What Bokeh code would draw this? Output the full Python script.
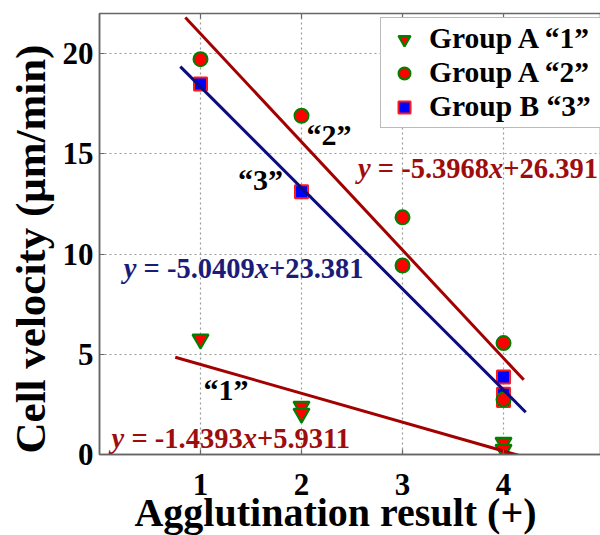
from bokeh.plotting import figure
from bokeh.models import Legend, LegendItem, FixedTicker, Range1d, GlobalInlineStyleSheet
from bokeh.embed import file_html
from bokeh.resources import INLINE
from bokeh.core.properties import value

# ---------------- data ----------------
g1_x = [1, 2, 2, 4, 4]
g1_y = [5.75, 2.4, 2.05, 0.6, 0.25]

g2_x = [1, 2, 3, 3, 4, 4]
g2_y = [19.72, 16.9, 11.83, 9.43, 5.56, 2.75]

g3_x = [1, 2, 4, 4, 4]
g3_y = [18.48, 13.11, 3.87, 3.0, 2.7]

fit_slope = [-1.4393, -5.3968, -5.0409]
fit_intercept = [5.9311, 26.391, 23.381]
fit_x_start = [0.75, 0.85, 0.8]
fit_x_end = [4.22, 4.2, 4.22]

x_ticks = [1, 2, 3, 4]
y_ticks = [0, 5, 10, 15, 20]
legend_labels = ["Group A \u201c1\u201d", "Group A \u201c2\u201d", "Group B \u201c3\u201d"]
group_tags = ["\u201c1\u201d", "\u201c2\u201d", "\u201c3\u201d"]
x_label = "Agglutination result (+)"
y_label = "Cell velocity (\u03bcm/min)"

# ---------------- styles ----------------
FONT = "Liberation Serif"
RED_LINE = "#a30000"
BLUE_LINE = "#0c0c80"
RED_TXT = "#9e0d0d"
BLUE_TXT = "#1c1c78"
AX = "#666666"
X_MAX, Y_MAX = 4.97, 22

p = figure(frame_width=502, frame_height=441,
           x_range=Range1d(0, X_MAX), y_range=Range1d(0, Y_MAX),
           output_backend="svg", toolbar_location=None,
           min_border_left=99, min_border_right=0, min_border_top=13,
           min_border_bottom=0)
# the original picture is cropped at its right and bottom edges
p.stylesheets = [GlobalInlineStyleSheet(css="html, body { overflow: hidden; }")]
p.outline_line_color = AX
p.outline_line_width = 1.5
p.background_fill_color = "white"

p.xaxis.ticker = FixedTicker(ticks=x_ticks)
p.yaxis.ticker = FixedTicker(ticks=y_ticks)
for ax in (p.xaxis[0], p.yaxis[0]):
    ax.major_label_text_font = FONT
    ax.major_label_text_font_style = "bold"
    ax.major_label_text_font_size = "31px"
    ax.major_label_text_color = "black"
    ax.axis_line_color = AX
    ax.axis_line_width = 1.5
    ax.major_tick_in = 5
    ax.major_tick_out = 0
    ax.major_tick_line_color = AX
    ax.major_tick_line_width = 1.2
    ax.minor_tick_line_color = None
    ax.axis_label_text_font = FONT
    ax.axis_label_text_font_style = "bold"
    ax.axis_label_text_color = "black"
p.xaxis.major_label_standoff = 19
p.yaxis.major_label_standoff = 6

# axis titles (trailing no-break spaces shift the centred title like the original)
p.xaxis.axis_label = x_label + "\u00a0\u00a0\u00a0"
p.xaxis.axis_label_text_font_size = "40px"
p.xaxis.axis_label_standoff = -8
p.yaxis.axis_label = y_label + "\u00a0\u00a0\u2009"
p.yaxis.axis_label_text_font_size = "43px"
p.yaxis.axis_label_standoff = 6

p.grid.grid_line_color = "#9a9a9a"
p.grid.grid_line_dash = "2 3"
p.grid.grid_line_width = 1.2

# mirrored tick marks on the top border
tick_len = 5 * Y_MAX / 441.0
p.segment(x0=x_ticks, y0=[Y_MAX] * len(x_ticks), x1=x_ticks,
          y1=[Y_MAX - tick_len] * len(x_ticks), line_color=AX, line_width=1.2)

# ---------------- markers ----------------
r1 = p.scatter(g1_x, g1_y, marker="inverted_triangle", size=16,
               fill_color="#ff0000", line_color="#008000", line_width=2.2)
r3 = p.scatter(g3_x, g3_y, marker="square", size=13,
               fill_color="#0000ff", line_color="#ff1a1a", line_width=2)
r2 = p.scatter(g2_x, g2_y, marker="circle", size=14,
               fill_color="#ff0000", line_color="#008000", line_width=2)

# ---------------- fit lines ----------------
line_colors = [RED_LINE, RED_LINE, BLUE_LINE]
for k in range(3):
    xs = [fit_x_start[k], fit_x_end[k]]
    ys = [fit_slope[k] * xx + fit_intercept[k] for xx in xs]
    p.line(xs, ys, line_color=line_colors[k], line_width=3)

# ---------------- equations ----------------
EQ_FS = 28.5


def add_equation(x0, y0, slope, intercept, color):
    # em advances of Times-metric bold / bold italic characters
    pieces = [
        ("y", "bold italic", 0.0),
        ("= %.4f" % slope, "bold", 0.694),
        ("x", "bold italic", 4.597),
        ("+%s" % intercept, "bold", 5.097),
    ]
    for txt, style, off in pieces:
        p.text(x=[x0], y=[y0], text=[txt], x_offset=off * EQ_FS,
               text_font=value(FONT), text_font_style=style,
               text_font_size=value("%.1fpx" % EQ_FS), text_color=color,
               text_align="left", text_baseline="middle")


add_equation(2.56, 14.26, fit_slope[1], fit_intercept[1], RED_TXT)
add_equation(0.24, 9.28, fit_slope[2], fit_intercept[2], BLUE_TXT)
add_equation(0.12, 0.81, fit_slope[0], fit_intercept[0], RED_TXT)

# ---------------- group tags ----------------
tag_x = [1.03, 2.05, 1.37]
tag_y = [3.25, 15.96, 13.7]
p.text(x=tag_x, y=tag_y, text=group_tags, text_font=value(FONT),
       text_font_style="bold", text_font_size=value("30px"), text_color="black",
       text_align="left", text_baseline="middle")

# ---------------- legend ----------------
legend = Legend(items=[LegendItem(label=legend_labels[0], renderers=[r1]),
                       LegendItem(label=legend_labels[1], renderers=[r2]),
                       LegendItem(label=legend_labels[2], renderers=[r3])],
                location=(281, 326))
legend.label_text_font = FONT
legend.label_text_font_style = "bold"
legend.label_text_font_size = "29.5px"
legend.label_text_color = "black"
legend.border_line_color = "#777777"
legend.border_line_width = 1.5
legend.background_fill_color = "white"
legend.background_fill_alpha = 1.0
legend.padding = 4
legend.spacing = 1
legend.margin = 0
legend.glyph_height = 30
legend.glyph_width = 38
legend.label_height = 30
legend.label_standoff = 6
legend.label_width = 167
p.add_layout(legend)

open("out.html", "w").write(file_html(p, INLINE))
